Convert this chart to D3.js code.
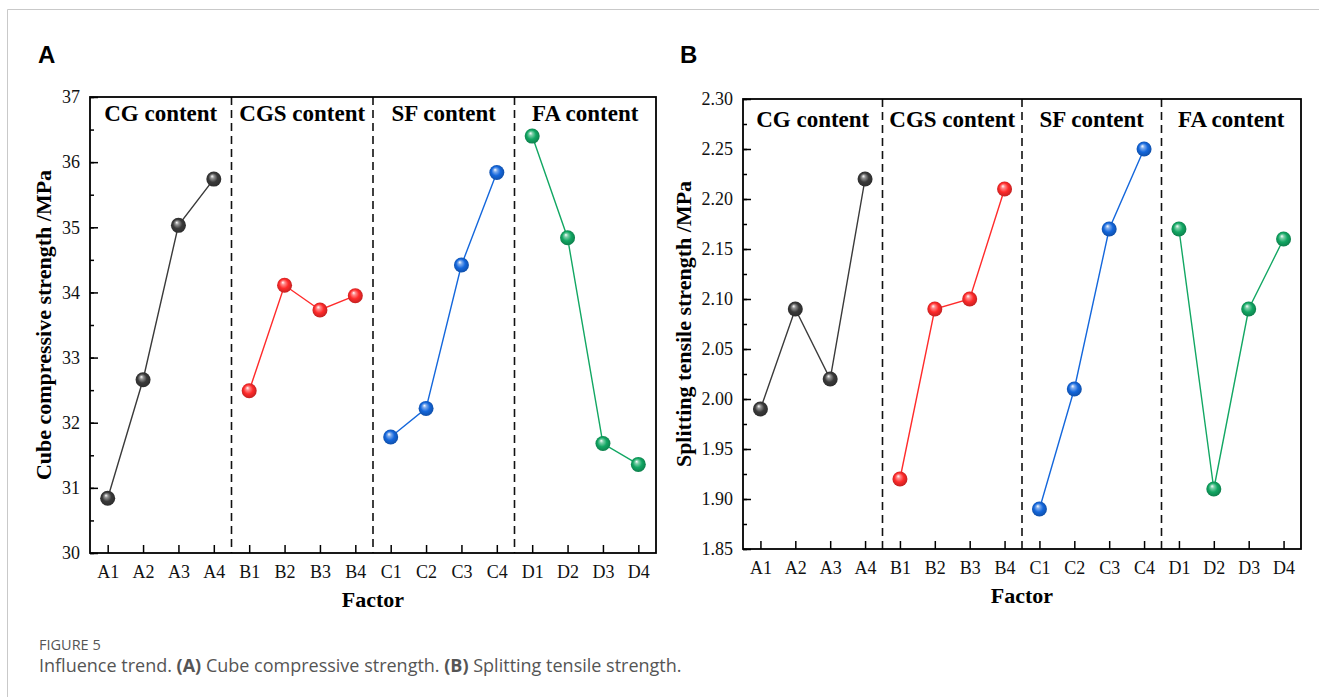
<!DOCTYPE html>
<html>
<head>
<meta charset="utf-8">
<script src="https://cdn.jsdelivr.net/npm/d3@7"></script>
<style>
  body { margin: 0; background: #fff; }
  svg { display: block; }
</style>
</head>
<body>
<div id="chart"></div>
<script>
// data
var factors = ["A1", "A2", "A3", "A4", "B1", "B2", "B3", "B4",
               "C1", "C2", "C3", "C4", "D1", "D2", "D3", "D4"];
var groups = ["CG content", "CGS content", "SF content", "FA content"];
var compressive = [30.84, 32.66, 35.03, 35.74, 32.49, 34.11, 33.73, 33.95,
                   31.78, 32.22, 34.42, 35.84, 36.40, 34.84, 31.68, 31.36];
var tensile = [1.99, 2.09, 2.02, 2.22, 1.92, 2.09, 2.10, 2.21,
               1.89, 2.01, 2.17, 2.25, 2.17, 1.91, 2.09, 2.16];
var groupColors = ["#3a3a3a", "#ff2b2b", "#1467dc", "#12a763"];
var ticksA = [30, 31, 32, 33, 34, 35, 36, 37];
var ticksB = [1.85, 1.90, 1.95, 2.00, 2.05, 2.10, 2.15, 2.20, 2.25, 2.30];

var W = 1319, H = 697;
var serif = "'Liberation Serif', 'Times New Roman', serif";

var svg = d3.select("#chart").append("svg")
    .attr("width", W).attr("height", H);

// outer page frame
svg.append("path")
    .attr("d", "M7.5," + H + "V9.5H" + W)
    .attr("fill", "none").attr("stroke", "#c9c9c9").attr("stroke-width", 1);

// sphere gradients
var defs = svg.append("defs");
groupColors.forEach(function(c, i) {
    var g = defs.append("radialGradient").attr("id", "ball" + i)
        .attr("cx", "50%").attr("cy", "50%").attr("r", "55%")
        .attr("fx", "38%").attr("fy", "30%");
    g.append("stop").attr("offset", "0%").attr("stop-color", "#ffffff");
    g.append("stop").attr("offset", "22%").attr("stop-color", d3.interpolateRgb("#ffffff", c)(0.55));
    g.append("stop").attr("offset", "55%").attr("stop-color", c);
    g.append("stop").attr("offset", "100%").attr("stop-color", d3.rgb(c).darker(0.9));
});

function drawPanel(opt) {
    var g = svg.append("g");
    var x = d3.scalePoint().domain(factors)
        .range([opt.left, opt.right]).padding(0.5);
    var y = d3.scaleLinear().domain(opt.domain).range([opt.bottom, opt.top]);
    var step = x.step();

    // panel letter
    svg.append("text").attr("x", opt.letterX).attr("y", 63)
        .attr("font-family", "'Liberation Sans', Arial, sans-serif")
        .attr("font-weight", "bold").attr("font-size", 24)
        .text(opt.letter);

    // minor y ticks
    var minor = d3.range(opt.domain[0], opt.domain[1] + 1e-9, opt.minorStep);
    g.append("g").attr("transform", "translate(" + opt.left + ",0)")
        .call(d3.axisLeft(y).tickValues(minor).tickSize(-4).tickFormat(""))
        .call(function(s) { s.select(".domain").remove(); })
        .selectAll("line").attr("stroke", "#000").attr("stroke-width", 1.5);

    // major y ticks
    var ya = g.append("g").attr("transform", "translate(" + opt.left + ",0)")
        .call(d3.axisLeft(y).tickValues(opt.ticks).tickSize(-8).tickPadding(10)
            .tickFormat(opt.fmt));
    ya.select(".domain").remove();
    ya.selectAll("line").attr("stroke", "#000").attr("stroke-width", 1.5);
    ya.selectAll("text").attr("font-family", serif).attr("font-size", 18).attr("fill", "#111");

    // x ticks
    var xa = g.append("g").attr("transform", "translate(0," + opt.bottom + ")")
        .call(d3.axisBottom(x).tickSize(-8).tickPadding(12));
    xa.select(".domain").remove();
    xa.selectAll("line").attr("stroke", "#000").attr("stroke-width", 1.5);
    xa.selectAll("text").attr("font-family", serif).attr("font-size", 18).attr("fill", "#111");

    // group separators
    for (var k = 1; k < groups.length; k++) {
        var bx = x(factors[k * 4]) - step / 2;
        g.append("line").attr("x1", bx).attr("x2", bx)
            .attr("y1", opt.top).attr("y2", opt.bottom)
            .attr("stroke", "#111").attr("stroke-width", 1.6)
            .attr("stroke-dasharray", "8,5");
    }

    // group titles
    groups.forEach(function(name, k) {
        var cx = x(factors[k * 4]) + step * 1.5;
        g.append("text").attr("x", cx).attr("y", opt.top + opt.titleDy)
            .attr("text-anchor", "middle")
            .attr("font-family", serif).attr("font-weight", "bold").attr("font-size", 23)
            .text(name);
    });

    // lines and spheres, one series per group
    var line = d3.line()
        .x(function(d) { return x(d.f); })
        .y(function(d) { return y(d.v); });
    groups.forEach(function(name, k) {
        var pts = d3.range(k * 4, k * 4 + 4).map(function(i) {
            return {f: factors[i], v: opt.values[i]};
        });
        g.append("path").datum(pts).attr("d", line)
            .attr("fill", "none").attr("stroke", groupColors[k]).attr("stroke-width", 1.4);
        g.selectAll(".ball" + k).data(pts).enter().append("circle")
            .attr("cx", function(d) { return x(d.f); })
            .attr("cy", function(d) { return y(d.v); })
            .attr("r", 7.5)
            .attr("fill", "url(#ball" + k + ")");
    });

    // plot frame
    g.append("rect").attr("x", opt.left).attr("y", opt.top)
        .attr("width", opt.right - opt.left).attr("height", opt.bottom - opt.top)
        .attr("fill", "none").attr("stroke", "#000").attr("stroke-width", 1.8);

    // axis titles
    g.append("text").attr("x", (opt.left + opt.right) / 2).attr("y", opt.bottom + 54)
        .attr("text-anchor", "middle")
        .attr("font-family", serif).attr("font-weight", "bold").attr("font-size", 22)
        .text("Factor");
    g.append("text")
        .attr("transform", "translate(" + opt.ylabX + "," + (opt.top + opt.bottom) / 2 + ") rotate(-90)")
        .attr("text-anchor", "middle")
        .attr("font-family", serif).attr("font-weight", "bold").attr("font-size", 22)
        .text(opt.ylabel);
}

drawPanel({
    letter: "A", letterX: 38,
    left: 90, right: 656, top: 97, bottom: 553,
    domain: [30, 37], ticks: ticksA, minorStep: 0.5,
    fmt: d3.format("d"), values: compressive, titleDy: 24,
    ylabX: 51, ylabel: "Cube compressive strength /MPa"
});

drawPanel({
    letter: "B", letterX: 680,
    left: 743, right: 1301, top: 99, bottom: 549,
    domain: [1.85, 2.30], ticks: ticksB, minorStep: 0.025,
    fmt: d3.format(".2f"), values: tensile, titleDy: 28,
    ylabX: 691, ylabel: "Splitting tensile strength /MPa"
});

// caption
svg.append("text").attr("x", 39).attr("y", 650)
    .attr("font-family", "'Open Sans', 'Noto Sans', sans-serif").attr("font-size", 14.5)
    .attr("fill", "#555").text("FIGURE 5");
var cap = svg.append("text").attr("x", 39).attr("y", 672)
    .attr("font-family", "'Open Sans', 'Noto Sans', sans-serif").attr("font-size", 18)
    .attr("fill", "#555");
cap.append("tspan").text("Influence trend. ");
cap.append("tspan").attr("font-weight", "bold").text("(A)");
cap.append("tspan").text(" Cube compressive strength. ");
cap.append("tspan").attr("font-weight", "bold").text("(B)");
cap.append("tspan").text(" Splitting tensile strength.");
</script>
</body>
</html>
